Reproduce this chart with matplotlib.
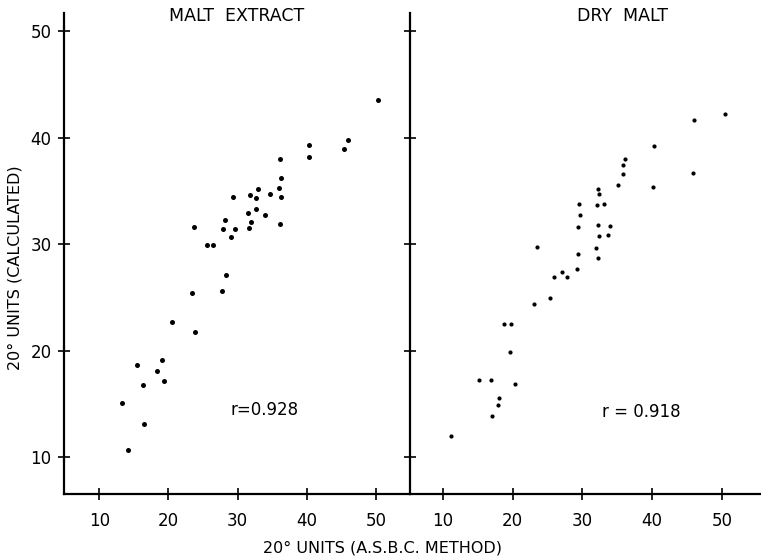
import matplotlib
matplotlib.use("Agg")
import matplotlib.pyplot as plt

# malt extract: asbc method (x) vs calculated (y)
extract_x = [50.3, 46.0, 45.4, 40.35, 40.3, 36.1, 36.2, 36.0, 36.3, 36.1,
             32.9, 31.8, 32.6, 34.7, 29.3, 32.7, 31.5, 33.9, 31.9, 31.6,
             28.2, 27.9, 29.6, 29.0, 23.7, 25.5, 26.5, 28.3, 27.7, 23.4,
             20.5, 23.8, 15.4, 19.0, 18.4, 19.4, 16.3, 13.3, 16.4, 14.1]
extract_y = [43.5, 39.8, 38.9, 39.3, 38.2, 38.0, 36.2, 35.3, 34.4, 31.9,
             35.2, 34.6, 34.3, 34.7, 34.4, 33.3, 32.9, 32.7, 32.1, 31.5,
             32.3, 31.4, 31.4, 30.7, 31.6, 29.9, 29.9, 27.1, 25.6, 25.4,
             22.7, 21.8, 18.7, 19.1, 18.1, 17.2, 16.8, 15.1, 13.1, 10.7]

# dry malt
dry_x = [50.5, 46.0, 45.8, 40.3, 40.1, 36.1, 35.85, 35.8, 35.1, 32.2,
         32.4, 32.1, 33.1, 29.5, 29.6, 29.4, 32.2, 33.9, 32.4, 33.7,
         23.5, 32.0, 29.4, 32.3, 29.3, 25.9, 27.1, 27.8, 25.3, 23.0,
         18.8, 19.8, 19.6, 15.2, 16.9, 20.3, 18.0, 17.9, 17.1, 11.2]
dry_y = [42.2, 41.7, 36.7, 39.2, 35.4, 38.0, 37.4, 36.6, 35.6, 35.2,
         34.7, 33.7, 33.8, 33.8, 32.7, 31.6, 31.8, 31.7, 30.8, 30.9,
         29.7, 29.6, 29.1, 28.7, 27.7, 26.9, 27.4, 26.9, 25.0, 24.4,
         22.5, 22.5, 19.9, 17.3, 17.3, 16.9, 15.6, 14.9, 13.9, 12.0]

ticks = [10, 20, 30, 40, 50]
titles = ["MALT  EXTRACT", "DRY  MALT"]
r_labels = ["r=0.928", "r = 0.918"]

W, H = 761, 559
fig = plt.figure(figsize=(W / 100, H / 100), dpi=100)

top_px, bot_px = 13, 494
ax1 = fig.add_axes([64 / W, 1 - bot_px / H, (410 - 64) / W, (bot_px - top_px) / H])
ax2 = fig.add_axes([410 / W, 1 - bot_px / H, (761 - 410) / W, (bot_px - top_px) / H])

ax1.set_xlim(4.9, 54.9)
ax2.set_xlim(5.3, 55.6)
for ax in (ax1, ax2):
    ax.set_ylim(6.56, 51.7)
    ax.set_xticks(ticks)
    ax.set_yticks(ticks)
    for s in ("top", "right"):
        ax.spines[s].set_visible(False)
    for s in ("left", "bottom"):
        ax.spines[s].set_linewidth(1.6)
    ax.tick_params(direction="inout", length=8, width=1.2, labelsize=12, colors="black")
    ax.tick_params(axis="x", pad=9)
    ax.tick_params(axis="y", pad=5)
    ax.set_facecolor("none")

ax2.tick_params(axis="y", labelleft=False)

ax1.plot(extract_x, extract_y, "o", color="black", markersize=3.6, markeredgewidth=0)
ax2.plot(dry_x, dry_y, "o", color="black", markersize=3.0, markeredgewidth=0)

ax1.text(0.5, 0.994, titles[0], transform=ax1.transAxes, ha="center", va="center", fontsize=12.5)
ax2.text(0.604, 0.994, titles[1], transform=ax2.transAxes, ha="center", va="center", fontsize=12.5)

ax1.text(33.9, 14.4, r_labels[0], ha="center", va="center", fontsize=12)
ax2.text(38.4, 14.25, r_labels[1], ha="center", va="center", fontsize=12)

fig.text(382 / W, 1 - 548 / H, "20° UNITS (A.S.B.C. METHOD)", ha="center", va="center", fontsize=11.5)
fig.text(15 / W, 1 - 268 / H, "20° UNITS (CALCULATED)", ha="center", va="center",
         rotation=90, fontsize=11.5)

fig.savefig("out.png", dpi=100)
